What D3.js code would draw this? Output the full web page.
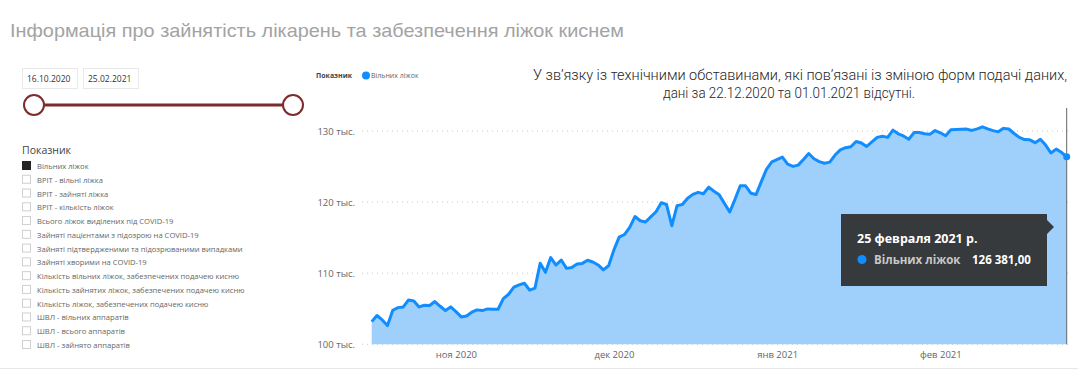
<!DOCTYPE html>
<html><head><meta charset="utf-8">
<script src="https://cdn.jsdelivr.net/npm/d3@7"></script>
<style>
html,body{margin:0;padding:0;background:#fff;}
svg{display:block;}
</style></head>
<body>
<svg id="chart" width="1078" height="370"></svg>
<script>
// ---- data ----
const startDate = "2020-10-16";
const endDate = "2021-02-25";
const missingDates = ["2020-12-22", "2021-01-01"];
// daily values (thousands), null = missing
const freeBeds = [
103.19,104.05,103.43,102.63,104.79,105.16,105.26,106.24,106.10,105.26,
105.49,105.45,106.01,105.35,104.74,105.26,104.60,103.85,103.99,104.51,
104.84,104.74,104.98,104.93,104.93,106.43,107.04,108.03,108.36,108.59,
107.61,107.89,111.40,110.12,112.20,111.15,111.85,110.68,110.80,111.30,
111.38,111.82,111.58,111.16,110.46,111.05,113.28,115.08,115.44,116.45,
117.97,117.38,117.20,117.92,118.65,119.92,119.66,116.68,119.50,119.66,
120.55,121.09,121.37,121.18,122.10,121.53,121.02,null,118.61,120.39,
122.30,122.30,121.25,121.06,122.88,124.65,125.66,null,126.33,125.35,
125.02,125.20,126.00,126.84,126.10,125.70,125.46,125.62,126.62,127.35,
127.65,127.78,128.52,128.32,127.82,128.48,129.10,129.25,129.10,130.12,
129.60,129.30,128.84,129.78,129.80,129.62,129.53,130.07,129.75,129.34,
130.16,130.22,130.24,130.27,130.08,130.30,130.58,130.30,130.05,129.88,
130.37,130.28,129.65,129.10,128.80,128.76,128.36,128.83,128.02,126.90,
127.45,127.00,126.381];
const yTicks = [100000, 110000, 120000, 130000];
const yTickLabels = ["100 тыс.", "110 тыс.", "120 тыс.", "130 тыс."];
const xTicks = ["2020-11-01", "2020-12-01", "2021-01-01", "2021-02-01"];
const xTickLabels = ["ноя 2020", "дек 2020", "янв 2021", "фев 2021"];
const filterItems = ["Вільних ліжок","ВРІТ - вільні ліжка","ВРІТ - зайняті ліжка","ВРІТ - кількість ліжок",
"Всього ліжок виділених під COVID-19","Зайняті пацієнтами з підозрою на COVID-19",
"Зайняті підтвердженими та підозрюваними випадками","Зайняті хворими на COVID-19",
"Кількість вільних ліжок, забезпечених подачею кисню","Кількість зайнятих ліжок, забезпечених подачею кисню",
"Кількість ліжок, забезпечених подачею кисню","ШВЛ - вільних аппаратів","ШВЛ - всього аппаратів","ШВЛ - зайнято аппаратів"];
const seriesName = "Вільних ліжок";
const tooltipDate = "25 февраля 2021 р.";
const tooltipValue = "126 381,00";
const dateLabels = ["16.10.2020", "25.02.2021"];

// ---- build ----
const parse = d3.utcParse("%Y-%m-%d");
const days = d3.utcDay.range(parse(startDate), d3.utcDay.offset(parse(endDate), 1));
const data = days.map((d, i) => ({date: d, value: freeBeds[i] == null ? null : freeBeds[i] * 1000}))
  .filter(d => d.value != null);

const svg = d3.select("#chart");
const FONT = "'Open Sans', 'Noto Sans', sans-serif";

// title
svg.append("text").attr("x", 10).attr("y", 37)
  .attr("font-family", "'Liberation Sans', Arial, sans-serif").attr("font-size", 19)
  .attr("fill", "#a3a3a3").attr("textLength", 614).attr("lengthAdjust", "spacingAndGlyphs")
  .text("Інформація про зайнятість лікарень та забезпечення ліжок киснем");

// date slicer
dateLabels.forEach((t, i) => {
  const x0 = [22, 83][i];
  svg.append("rect").attr("x", x0 + 0.5).attr("y", 68.5).attr("width", 55).attr("height", 20)
    .attr("fill", "#fff").attr("stroke", "#e9e9e9");
  svg.append("text").attr("x", x0 + 5).attr("y", 82).attr("font-family", FONT)
    .attr("font-size", 8.5).attr("fill", "#333").text(t);
});
svg.append("line").attr("x1", 34).attr("x2", 293).attr("y1", 105).attr("y2", 105)
  .attr("stroke", "#7d2b2b").attr("stroke-width", 3);
[34, 293].forEach(cx => svg.append("circle").attr("cx", cx).attr("cy", 105).attr("r", 10)
  .attr("fill", "#fff").attr("stroke", "#7d2b2b").attr("stroke-width", 2));

// filter list
svg.append("text").attr("x", 22).attr("y", 154).attr("font-family", FONT)
  .attr("font-size", 10.5).attr("fill", "#444").text("Показник");
filterItems.forEach((t, i) => {
  const y = 166 + i * 13.77;
  svg.append("rect").attr("x", 22.5).attr("y", y - 4.5).attr("width", 8).attr("height", 8)
    .attr("fill", i === 0 ? "#252423" : "#fff").attr("stroke", i === 0 ? "#252423" : "#d0d0d0");
  svg.append("text").attr("x", 37).attr("y", y + 3).attr("font-family", FONT)
    .attr("font-size", 7.6).attr("fill", "#666").text(t);
});

// chart legend
svg.append("text").attr("x", 316).attr("y", 78).attr("font-family", FONT).attr("font-weight", "bold")
  .attr("font-size", 7).attr("fill", "#444").text("Показник");
svg.append("circle").attr("cx", 366).attr("cy", 75.5).attr("r", 4).attr("fill", "#118DFF");
svg.append("text").attr("x", 371).attr("y", 78).attr("font-family", FONT)
  .attr("font-size", 7).attr("fill", "#666").text(seriesName);

// annotation
const ANN = "Roboto, 'Liberation Sans', sans-serif";
svg.append("text").attr("x", 800).attr("y", 80).attr("text-anchor", "middle")
  .attr("font-family", ANN).attr("font-weight", 300).attr("font-size", 14)
  .attr("fill", "#252525").attr("textLength", 534).attr("lengthAdjust", "spacingAndGlyphs")
  .text("У зв’язку із технічними обставинами, які пов’язані із зміною форм подачі даних,");
svg.append("text").attr("x", 789).attr("y", 98).attr("text-anchor", "middle")
  .attr("font-family", ANN).attr("font-weight", 300).attr("font-size", 14)
  .attr("fill", "#252525").attr("textLength", 252).attr("lengthAdjust", "spacingAndGlyphs")
  .text("дані за 22.12.2020 та 01.01.2021 відсутні.");

// scales
const x = d3.scaleUtc().domain([parse(startDate), parse(endDate)]).range([371.7, 1066.7]);
const y = d3.scaleLinear().domain([100000, 130000]).range([344.3, 131]);

// grid + y axis
const yAxis = d3.axisLeft(y).tickValues(yTicks).tickSize(0).tickPadding(0)
  .tickFormat((d, i) => yTickLabels[i]);
const gy = svg.append("g").attr("transform", "translate(355,0)").call(yAxis);
gy.select(".domain").remove();
gy.selectAll("text").attr("font-family", FONT).attr("font-size", 9.5).attr("fill", "#666").attr("dy", "0.35em");
svg.append("g").selectAll("line").data(yTicks).join("line")
  .attr("x1", 362).attr("x2", 1072).attr("y1", d => y(d)).attr("y2", d => y(d))
  .attr("stroke", "#c8c8c8").attr("stroke-dasharray", "1,4");

// area + line
const area = d3.area().x(d => x(d.date)).y0(y(100000)).y1(d => y(d.value));
const line = d3.line().x(d => x(d.date)).y(d => y(d.value));
svg.append("path").datum(data).attr("d", area).attr("fill", "#9fd0fc");
svg.append("path").datum(data).attr("d", line).attr("fill", "none")
  .attr("stroke", "#118DFF").attr("stroke-width", 3).attr("stroke-linejoin", "round");

// x axis
const xAxis = d3.axisBottom(x).tickValues(xTicks.map(parse)).tickSize(0).tickPadding(0)
  .tickFormat((d, i) => xTickLabels[i]);
const gx = svg.append("g").attr("transform", "translate(0,358)").call(xAxis);
gx.select(".domain").remove();
gx.selectAll("text").attr("font-family", FONT).attr("font-size", 9.5).attr("fill", "#666").attr("dy", "0");

// hover line + point
const last = data[data.length - 1];
svg.append("line").attr("x1", x(last.date)).attr("x2", x(last.date)).attr("y1", 108).attr("y2", 344.3)
  .attr("stroke", "#666").attr("stroke-width", 1);
svg.append("circle").attr("cx", x(last.date)).attr("cy", y(last.value)).attr("r", 3.5).attr("fill", "#118DFF");

// tooltip
const tt = svg.append("g");
tt.append("rect").attr("x", 841).attr("y", 214).attr("width", 206).attr("height", 72).attr("fill", "#363a3d");
tt.append("path").attr("d", "M1047,220L1054,227L1047,234Z").attr("fill", "#363a3d");
tt.append("text").attr("x", 857).attr("y", 243).attr("font-family", FONT).attr("font-weight", "bold")
  .attr("font-size", 12.5).attr("fill", "#fff").text(tooltipDate);
tt.append("circle").attr("cx", 862).attr("cy", 259.5).attr("r", 4.5).attr("fill", "#118DFF");
tt.append("text").attr("x", 874).attr("y", 264).attr("font-family", FONT).attr("font-weight", "bold")
  .attr("font-size", 11.5).attr("fill", "#c8c8c8").text(seriesName);
tt.append("text").attr("x", 972).attr("y", 264).attr("font-family", FONT).attr("font-weight", "bold")
  .attr("font-size", 11.5).attr("fill", "#fff").text(tooltipValue);

// bottom border
svg.append("line").attr("x1", 0).attr("x2", 1078).attr("y1", 368.5).attr("y2", 368.5).attr("stroke", "#e6e6e6");
</script>
</body></html>
